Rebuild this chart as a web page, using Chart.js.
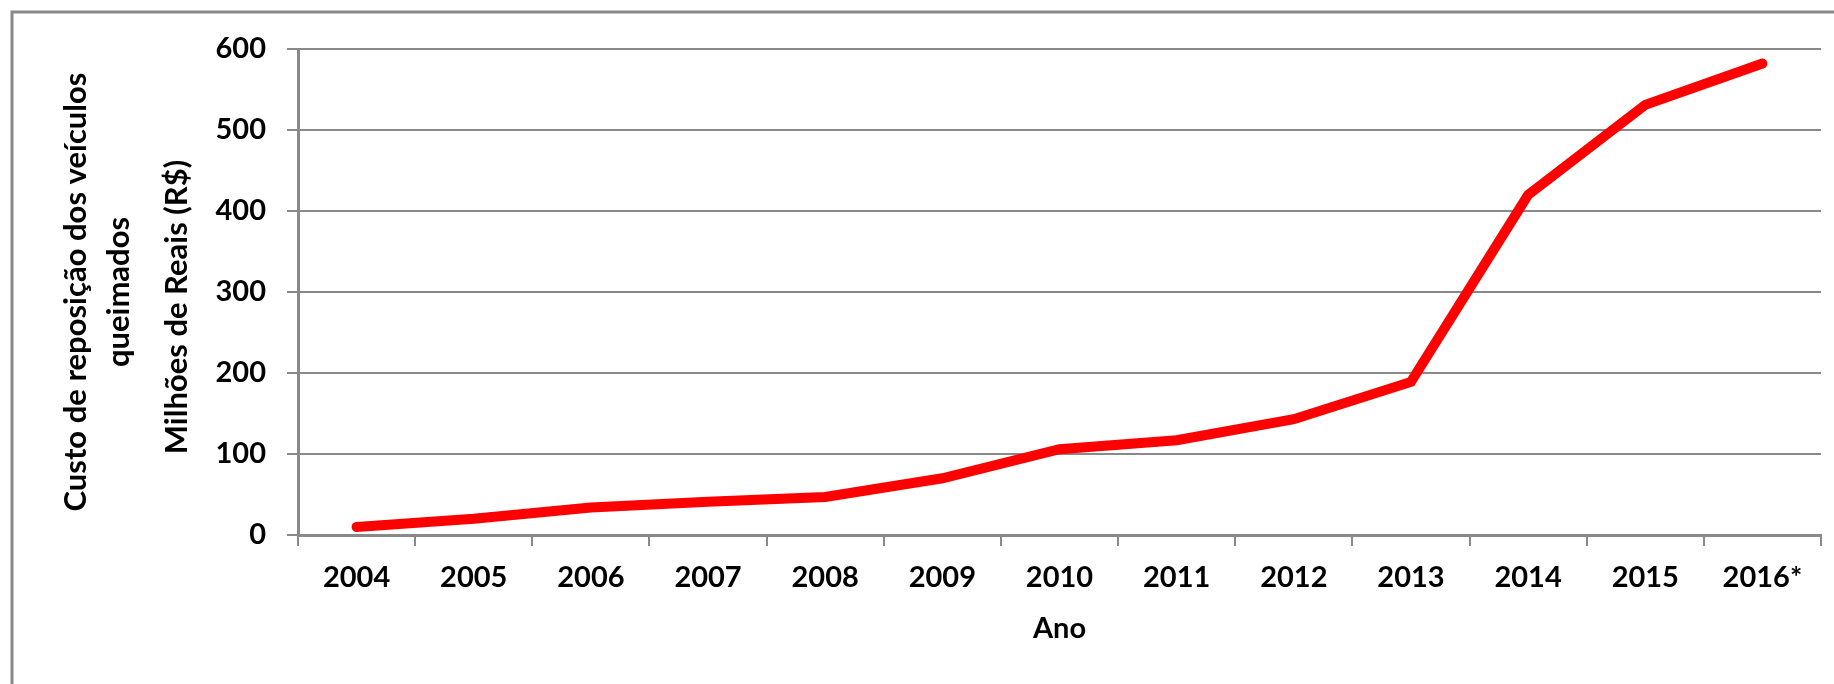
<!DOCTYPE html>
<html lang="pt">
<head>
<meta charset="utf-8">
<title>Custo de reposição dos veículos queimados</title>
<script src="https://cdn.jsdelivr.net/npm/chart.js@4.4.1/dist/chart.umd.min.js"></script>
<style>
    html, body { margin: 0; padding: 0; background: #fff; }
    #wrap { width: 1834px; height: 684px; position: relative; }
</style>
</head>
<body>
<div id="wrap"><canvas id="grafico"></canvas></div>
<script>
// dados
const anos = ['2004', '2005', '2006', '2007', '2008', '2009', '2010', '2011', '2012', '2013', '2014', '2015', '2016*'];
const custo = [10, 20, 34, 41, 47, 70, 106, 117, 143, 189, 420, 531, 582];
const eixoY = { min: 0, max: 600, passo: 100 };

const tituloY = ['Custo de reposição dos veículos', 'queimados'];
const tituloUnidade = 'Milhões de Reais (R$)';
const tituloX = 'Ano';

const fonte = '"Lato", "Open Sans", sans-serif';
const cinza = '#898989';

// moldura e títulos desenhados à mão
const moldura = {
    id: 'moldura',
    beforeDraw(chart) {
        const ctx = chart.ctx;
        ctx.save();
        ctx.strokeStyle = cinza;
        ctx.lineWidth = 3;
        ctx.beginPath();
        ctx.moveTo(12, chart.height + 5);
        ctx.lineTo(12, 12);
        ctx.lineTo(chart.width + 5, 12);
        ctx.stroke();
        ctx.restore();
    },
    afterDraw(chart) {
        const ctx = chart.ctx;
        const area = chart.chartArea;
        const meio = (area.top + area.bottom) / 2;
        ctx.save();
        ctx.fillStyle = '#000';
        ctx.textAlign = 'center';
        ctx.textBaseline = 'middle';
        ctx.font = 'bold 31px ' + fonte;

        // título do eixo Y (girado)
        ctx.save();
        ctx.translate(76, meio);
        ctx.rotate(-Math.PI / 2);
        ctx.fillText(tituloY[0], 0, 0);
        ctx.restore();

        ctx.save();
        ctx.translate(119, meio);
        ctx.rotate(-Math.PI / 2);
        ctx.fillText(tituloY[1], 0, 0);
        ctx.restore();

        ctx.save();
        ctx.translate(177, meio + 15);
        ctx.rotate(-Math.PI / 2);
        ctx.fillText(tituloUnidade, 0, 0);
        ctx.restore();

        // título do eixo X
        ctx.font = 'bold 29px ' + fonte;
        ctx.fillText(tituloX, (area.left + area.right) / 2, 629);
        ctx.restore();
    }
};

const ctx = document.getElementById('grafico').getContext('2d');
new Chart(ctx, {
    type: 'line',
    data: {
        labels: anos,
        datasets: [{
            label: 'Custo',
            data: custo,
            borderColor: '#ff0000',
            borderWidth: 10,
            borderCapStyle: 'round',
            borderJoinStyle: 'miter',
            pointRadius: 0,
            tension: 0,
            fill: false
        }]
    },
    options: {
        responsive: true,
        maintainAspectRatio: false,
        animation: false,
        layout: { padding: { top: 49, right: 13, left: 0, bottom: 0 } },
        plugins: {
            legend: { display: false },
            tooltip: { enabled: false }
        },
        scales: {
            x: {
                offset: true,
                grid: {
                    offset: true,
                    drawOnChartArea: false,
                    drawTicks: true,
                    tickLength: 11,
                    color: cinza,
                    lineWidth: 2
                },
                border: { display: true, color: cinza, width: 3 },
                ticks: {
                    color: '#000',
                    padding: 14,
                    maxRotation: 0,
                    autoSkip: false,
                    font: { family: fonte, size: 29, weight: 'bold' }
                },
                afterFit(scale) { scale.height = 149; }
            },
            y: {
                min: eixoY.min,
                max: eixoY.max,
                grid: {
                    color: cinza,
                    lineWidth: 2,
                    tickLength: 11,
                    drawTicks: true
                },
                border: { display: true, color: cinza, width: 3 },
                ticks: {
                    stepSize: eixoY.passo,
                    color: '#000',
                    padding: 21,
                    font: { family: fonte, size: 29, weight: 'bold' }
                },
                afterFit(scale) { scale.width = 298; }
            }
        }
    },
    plugins: [moldura]
});
</script>
</body>
</html>
